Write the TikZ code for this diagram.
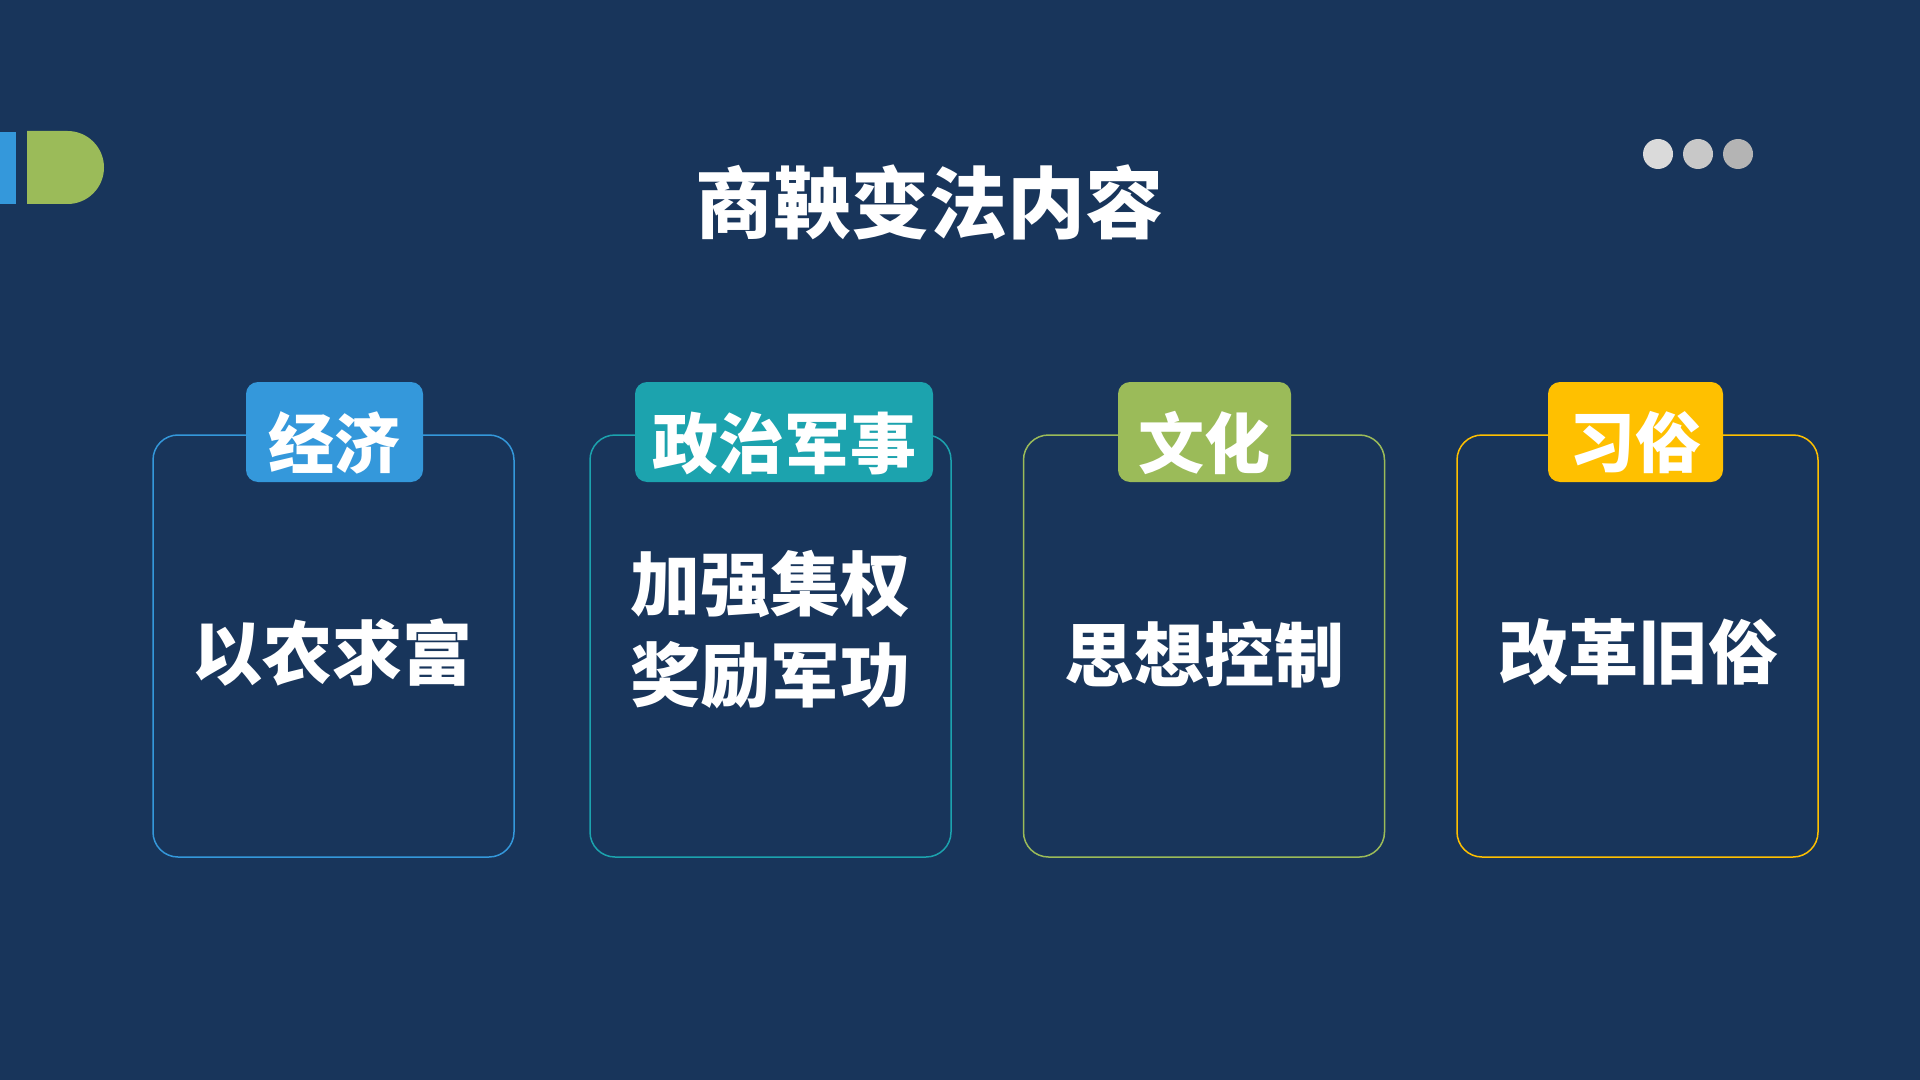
\documentclass[tikz,border=0pt]{standalone}
\usepackage{fontspec}
\newfontfamily\cjk{Noto Sans CJK SC}
\definecolor{bg}{HTML}{18355B}
\definecolor{cblue}{HTML}{3498DB}
\definecolor{cteal}{HTML}{1CA3AE}
\definecolor{cgreen}{HTML}{9BBB59}
\definecolor{cyellow}{HTML}{FFC000}
\definecolor{dotA}{HTML}{DADADA}
\definecolor{dotB}{HTML}{C8C8C8}
\definecolor{dotC}{HTML}{B4B4B4}
\tikzset{
  panel/.style={draw=#1, line width=0.75pt, rounded corners=12.5pt, minimum width=180.5pt, minimum height=211pt, inner sep=0pt},
  tagbox/.style={fill=#1, rounded corners=6pt, minimum height=50pt, inner sep=0pt},
  tagtext/.style={text=white, font=\cjk\bfseries\fontsize{33}{40}\selectfont, inner sep=0pt},
  bodytext/.style={text=white, font=\cjk\bfseries\fontsize{35}{45.5}\selectfont, inner sep=0pt, align=center},
}
\begin{document}
\begin{tikzpicture}[x=0.5pt,y=-0.5pt]
\fill[bg] (0,0) rectangle (1920,1080);
\useasboundingbox (0,0) rectangle (1920,1080);
% left decoration
\fill[cblue] (0,132) rectangle (16,204);
\fill[cgreen] (27,131) -- (67.5,131) arc (-90:90:36.5) -- (27,204) -- cycle;
% dots
\fill[dotA] (1658,154) circle (15);
\fill[dotB] (1698,154) circle (15);
\fill[dotC] (1738,154) circle (15);
% title
\node[text=white, font=\cjk\bfseries\fontsize{39}{46}\selectfont, inner sep=0pt] (title) at (929,202) {商鞅变法内容};
% panels
\node[panel=cblue] (b1) at (333.5,646) {};
\node[panel=cteal] (b2) at (770.5,646) {};
\node[panel=cgreen] (b3) at (1204,646) {};
\node[panel=cyellow] (b4) at (1637.5,646) {};
% tags
\node[tagbox=cblue, minimum width=88.5pt] (t1) at (334.5,432) {};
\node[tagbox=cteal, minimum width=149pt] (t2) at (784,432) {};
\node[tagbox=cgreen, minimum width=86.5pt] (t3) at (1204.5,432) {};
\node[tagbox=cyellow, minimum width=87.5pt] (t4) at (1635.5,432) {};
\node[tagtext] (l1) at (334.5,443) {经济};
\node[tagtext] (l2) at (784,443) {政治军事};
\node[tagtext] (l3) at (1204.5,443) {文化};
\node[tagtext] (l4) at (1635.5,443) {习俗};
% body texts
\node[bodytext] (x1) at (332,652) {以农求富};
\node[bodytext] (x2) at (770,630) {加强集权\\奖励军功};
\node[bodytext] (x3) at (1204,655) {思想控制};
\node[bodytext] (x4) at (1638,652) {改革旧俗};
\end{tikzpicture}
\end{document}
